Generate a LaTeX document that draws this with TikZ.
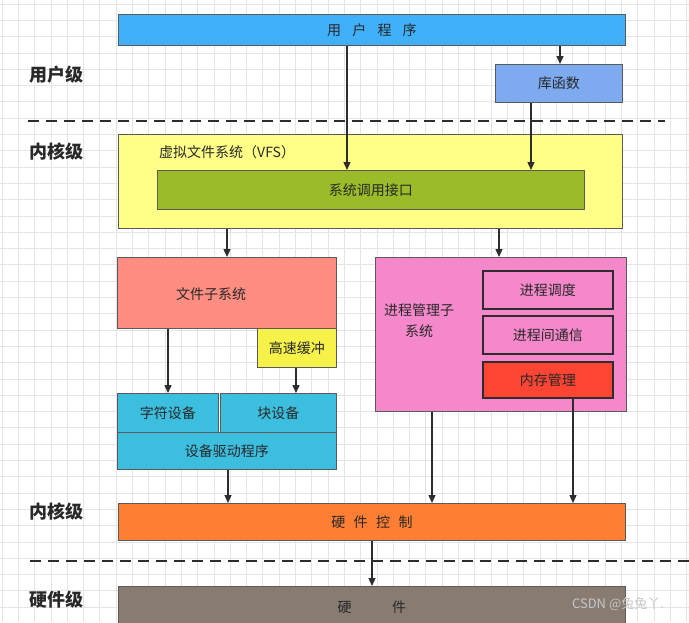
\documentclass[tikz,border=0pt]{standalone}
\usepackage{fontspec}
\setmainfont{Noto Sans CJK SC}
\usepackage{xcolor}
\usepackage{tikz}
\usetikzlibrary{arrows.meta, positioning}
\definecolor{userblue}{RGB}{64, 176, 250}
\definecolor{libblue}{RGB}{126, 170, 240}
\definecolor{vfsyellow}{RGB}{255, 255, 136}
\definecolor{sysgreen}{RGB}{155, 187, 40}
\definecolor{fsred}{RGB}{255, 141, 130}
\definecolor{cacheyellow}{RGB}{247, 242, 74}
\definecolor{devcyan}{RGB}{60, 190, 223}
\definecolor{procpink}{RGB}{245, 136, 203}
\definecolor{memred}{RGB}{254, 68, 51}
\definecolor{ctlorange}{RGB}{254, 127, 51}
\definecolor{hwgray}{RGB}{135, 123, 114}
\definecolor{boxline}{RGB}{90, 90, 90}
\definecolor{darktext}{RGB}{40, 40, 40}
\definecolor{arrline}{RGB}{45, 45, 45}
\definecolor{gridgray}{RGB}{228, 228, 228}

\begin{document}
\begin{tikzpicture}[x=1pt, y=-1pt,
      box/.style={
        rectangle, draw=boxline, line width=0.8pt, anchor=north west,
        inner sep=0pt, font=\fontsize{14}{16}\selectfont, text=darktext
      },
      subbox/.style={box, draw=arrline, line width=1.6pt},
      level/.style={font=\fontsize{18}{20}\selectfont\bfseries, text=darktext},
      arr/.style={-{Triangle[length=8pt, width=7pt]}, line width=1.3pt, color=arrline},
      sep/.style={line width=2.6pt, dash pattern=on 11pt off 7pt, color=arrline},
      gridline/.style={gridgray, line width=0.8pt}
  ]
    \clip (0,0) rectangle (689,622);
    \fill[white] (0,0) rectangle (689,622);
    \foreach \i in {0,...,42} \draw[gridline] ({2+16.3*\i},0) -- ({2+16.3*\i},622);
    \foreach \j in {0,...,38} \draw[gridline] (0,{4+16.3*\j}) -- (689,{4+16.3*\j});

    % user level
    \node[box, fill=userblue, minimum width=507pt, minimum height=31pt] (user) at (118,14)
      {用\hspace{0.8em}户\hspace{0.8em}程\hspace{0.8em}序};
    \node[box, fill=libblue, minimum width=127pt, minimum height=38pt] (lib) at (495,64) {库函数};

    % kernel level
    \node[box, fill=vfsyellow, minimum width=504pt, minimum height=94pt] (vfs) at (118,134) {};
    \node[anchor=west, font=\fontsize{14}{16}\selectfont, text=darktext, inner sep=0pt] (vfstitle) at (159,152) {虚拟文件系统（VFS）};
    \node[box, fill=sysgreen, minimum width=427pt, minimum height=39pt] (sysc) at (157,170) {系统调用接口};

    \node[box, fill=fsred, minimum width=219pt, minimum height=71pt] (fs) at (117,257) {};
    \node[font=\fontsize{14}{16}\selectfont, text=darktext] (fslabel) at (211,294) {文件子系统};
    \node[box, fill=cacheyellow, minimum width=79pt, minimum height=39pt] (cache) at (257,328) {高速缓冲};
    \node[box, fill=devcyan, minimum width=101pt, minimum height=39pt] (chr) at (117,393) {字符设备};
    \node[box, fill=devcyan, minimum width=116pt, minimum height=39pt] (blk) at (220,393) {块设备};
    \node[box, fill=devcyan, minimum width=219pt, minimum height=37pt] (drv) at (117,432) {设备驱动程序};

    \node[box, fill=procpink, minimum width=251pt, minimum height=154pt] (proc) at (375,257) {};
    \node[align=center, font=\fontsize{14}{21}\selectfont, text=darktext] (proclabel) at (419,321) {进程管理子\\系统};
    \node[subbox, fill=procpink, minimum width=130pt, minimum height=38pt] (sched) at (482,270) {进程调度};
    \node[subbox, fill=procpink, minimum width=130pt, minimum height=38pt] (ipc) at (482,315) {进程间通信};
    \node[subbox, fill=memred, minimum width=130pt, minimum height=36pt] (mem) at (482,361) {内存管理};

    \node[box, fill=ctlorange, minimum width=507pt, minimum height=37pt] (hwctl) at (118,503)
      {硬\hspace{0.6em}件\hspace{0.6em}控\hspace{0.6em}制};

    % hardware level
    \node[box, fill=hwgray, minimum width=507pt, minimum height=50pt] (hw) at (118,586)
      {\raisebox{10pt}{硬\hspace{2.9em}件}};

    \node[level] (lvuser) at (56,75) {用户级};
    \node[level] (lvkern) at (56,152) {内核级};
    \node[level] (lvkernb) at (56,512) {内核级};
    \node[level] (lvhw) at (56,600) {硬件级};

    \draw[sep] (28,121) -- (665,121);
    \draw[sep] (30,561) -- (689,561);

    \coordinate (xa) at (347,0);
    \coordinate (xb) at (560,0);
    \coordinate (xc) at (531,0);
    \coordinate (xd) at (227,0);
    \coordinate (xe) at (499,0);
    \coordinate (xf) at (168,0);
    \coordinate (xg) at (296,0);
    \coordinate (xh) at (228,0);
    \coordinate (xi) at (432,0);
    \coordinate (xj) at (573,0);
    \coordinate (xk) at (372,0);

    \draw[arr] (user.south -| xa) -- (sysc.north -| xa);
    \draw[arr] (user.south -| xb) -- (lib.north -| xb);
    \draw[arr] (lib.south -| xc) -- (sysc.north -| xc);
    \draw[arr] (vfs.south -| xd) -- (fs.north -| xd);
    \draw[arr] (vfs.south -| xe) -- (proc.north -| xe);
    \draw[arr] (fs.south -| xf) -- (chr.north -| xf);
    \draw[arr] (cache.south -| xg) -- (blk.north -| xg);
    \draw[arr] (drv.south -| xh) -- (hwctl.north -| xh);
    \draw[arr] (proc.south -| xi) -- (hwctl.north -| xi);
    \draw[arr] (mem.south -| xj) -- (hwctl.north -| xj);
    \draw[arr] (hwctl.south -| xk) -- (hw.north -| xk);

    \node[font=\fontsize{13}{15}\selectfont, text=black!22] (mark) at (618,604) {CSDN @兔兔丫.};
  \end{tikzpicture}
\end{document}
